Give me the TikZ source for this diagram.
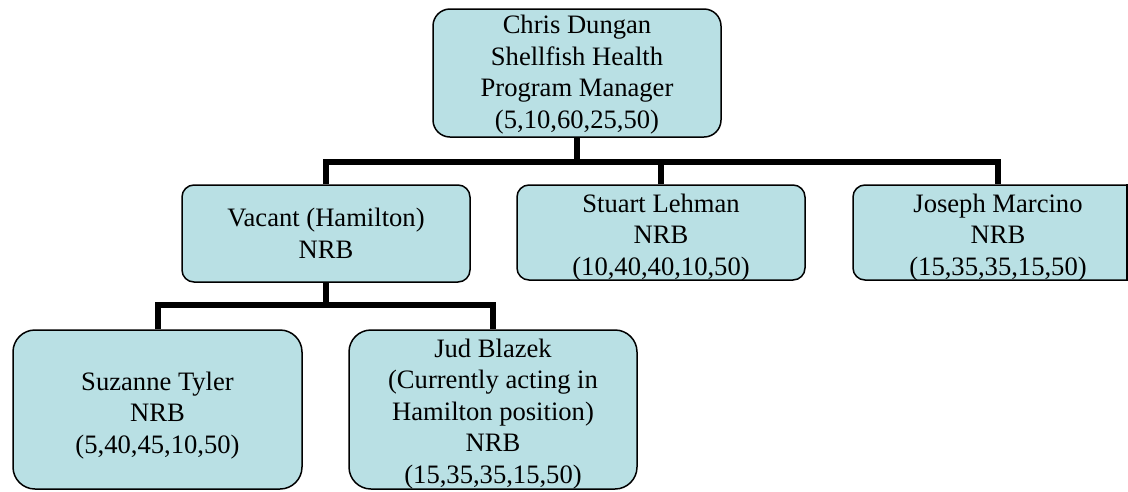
\documentclass[tikz,border=0pt]{standalone}
\usepackage{fontspec}
\setmainfont{Liberation Serif}
\definecolor{boxfill}{RGB}{185,224,228}
\tikzset{
  orgbox/.style={draw=black, line width=1.5pt, fill=boxfill, rectangle, inner sep=0pt},
  lbl/.style={align=center, inner sep=0pt, anchor=base, font=\fontsize{26.6}{31.5}\selectfont},
  conn/.style={line width=6pt, line join=miter}
}
\begin{document}
\begin{tikzpicture}[x=1pt, y=-1pt]
\useasboundingbox (0,0) rectangle (1128,491);
\clip (0,0) rectangle (1128,491);
% boxes
\node[orgbox, rounded corners=17pt, minimum width=288pt, minimum height=128pt] (top) at (577,73) {};
\node[orgbox, rounded corners=12pt, minimum width=288pt, minimum height=97pt] (vac) at (326,233.5) {};
\node[orgbox, rounded corners=12pt, minimum width=288pt, minimum height=95pt] (stu) at (661,232.5) {};
\node[orgbox, rounded corners=12pt, minimum width=290pt, minimum height=95pt] (jos) at (998,232.5) {};
\node[orgbox, rounded corners=22pt, minimum width=289pt, minimum height=159pt] (suz) at (157.5,409.5) {};
\node[orgbox, rounded corners=22pt, minimum width=288pt, minimum height=159pt] (jud) at (493,409.5) {};
\coordinate (jedge) at (1127,0);
\draw[line width=1.5pt] (jos.north -| jedge) -- (jos.south -| jedge);
% labels (anchored at the baseline of the last line)
\node[lbl] (toplbl) at (577,128) {Chris Dungan\\Shellfish Health\\Program Manager\\(5,10,60,25,50)};
\node[lbl] (vaclbl) at (326,258) {Vacant (Hamilton)\\NRB};
\node[lbl] (stulbl) at (661,275) {Stuart Lehman\\NRB\\(10,40,40,10,50)};
\node[lbl] (joslbl) at (998,275) {Joseph Marcino\\NRB\\(15,35,35,15,50)};
\node[lbl] (suzlbl) at (157.5,453) {Suzanne Tyler\\NRB\\(5,40,45,10,50)};
\node[lbl] (judlbl) at (493,483) {Jud Blazek\\(Currently acting in\\Hamilton position)\\NRB\\(15,35,35,15,50)};
% connectors
\coordinate (bus1) at (577,162);
\coordinate (bus2) at (326,305);
\draw[conn] (vac.north) |- (bus1) -| (jos.north);
\draw[conn] (top.south) -- (bus1);
\draw[conn] (stu.north) -- (stu.north |- bus1);
\draw[conn] (vac.south) -- (bus2);
\draw[conn] (suz.north) |- (bus2) -| (jud.north);
\end{tikzpicture}
\end{document}
